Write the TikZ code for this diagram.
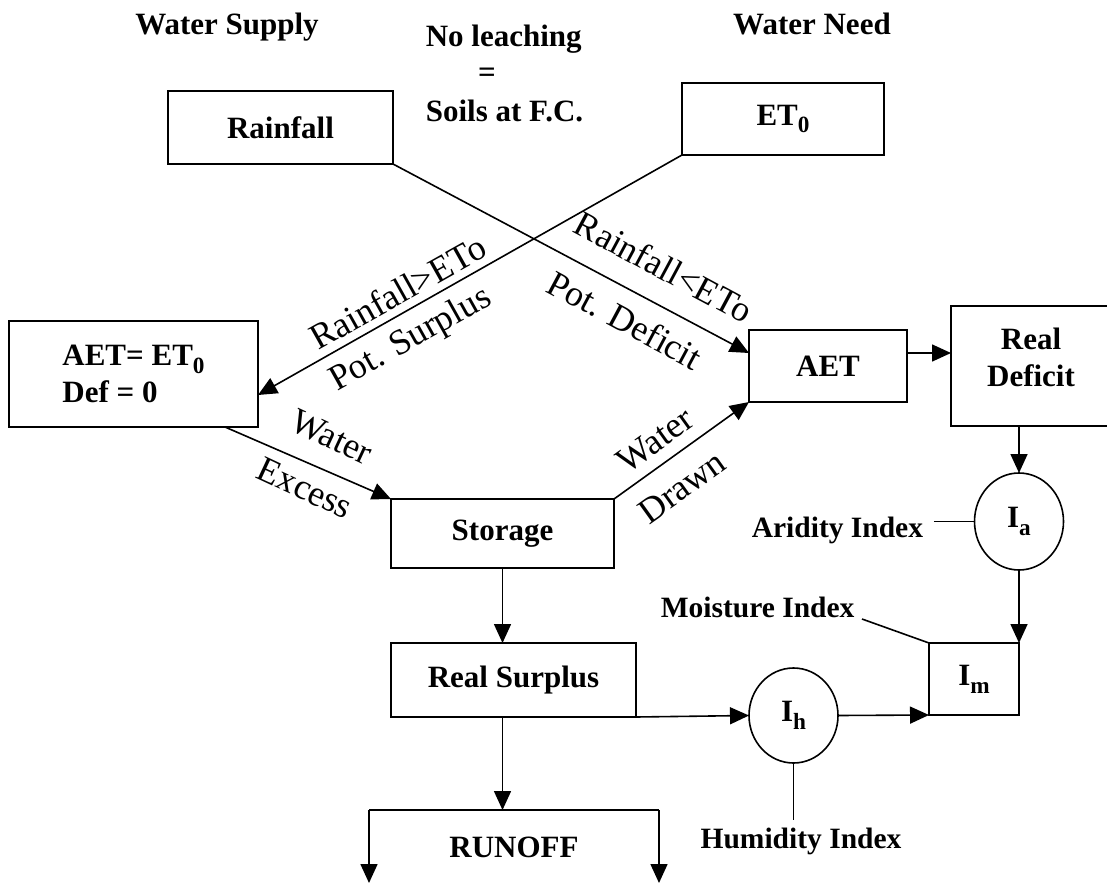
\documentclass[tikz,border=0pt]{standalone}
\usepackage{fontspec}
\setmainfont{Liberation Serif}
\usetikzlibrary{arrows.meta,shapes.geometric}
\newcommand{\sbs}[1]{\raisebox{-0.25em}{\scalebox{0.75}{#1}}}
\begin{document}
\begin{tikzpicture}[x=1pt,y=-1pt,
  line width=1.6pt,
  box/.style={draw, rectangle, inner sep=0pt, outer sep=0pt, font=\fontsize{31}{37}\selectfont\bfseries},
  circ/.style={draw, ellipse, inner sep=0pt, outer sep=0pt, minimum width=89pt, font=\fontsize{31}{37}\selectfont\bfseries},
  lbl/.style={font=\fontsize{29.5}{35}\selectfont\bfseries, inner sep=1pt},
  head/.style={font=\fontsize{31}{37}\selectfont\bfseries, inner sep=0pt},
  rot/.style={font=\fontsize{36}{40}\selectfont, inner sep=0pt},
  arr/.style={-{Triangle[length=19pt,width=17pt]}},
]
\useasboundingbox (0,0) rectangle (1107,885);

% headings
\node[head, anchor=base] (ws) at (227,35) {Water Supply};
\node[head, anchor=base west] (nl) at (425,47) {No leaching};
\node[head] (eq) at (487,75) {=};
\node[head, anchor=base west] (sfc) at (425,122) {Soils at F.C.};
\node[head, anchor=base] (wn) at (812,35) {Water Need};

% boxes
\node[box, minimum width=225pt, minimum height=73pt] (rain) at (280.5,127.5) {Rainfall};
\node[box, minimum width=202pt, minimum height=72pt] (et) at (783,119) {ET\sbs{0}};
\node[box, minimum width=249pt, minimum height=106pt, align=left] (aetz) at (133.5,374) {AET= ET\sbs{0}\\ Def = 0};
\node[box, minimum width=158pt, minimum height=72pt] (aet) at (828,366) {AET};
\node[box, minimum width=160pt, minimum height=120pt] (rdef) at (1031,366) {};
\node[head, align=center] (rdeft) at (1031,357) {Real\\Deficit};
\node[box, minimum width=223pt, minimum height=69pt] (sto) at (502.5,533.5) {Storage};
\node[box, minimum width=245pt, minimum height=74pt] (rs) at (513.5,680) {Real Surplus};
\node[box, minimum width=90pt, minimum height=72pt] (im) at (974,679) {I\sbs{m}};
\node[circ, minimum height=97pt] (ia) at (1019,521.5) {I\sbs{a}};
\node[circ, minimum height=95pt] (ih) at (793.5,715.5) {I\sbs{h}};

% side labels
\node[lbl, anchor=base west] (arid) at (750,537) {Aridity Index};
\node[lbl, anchor=base west] (moist) at (659,617) {Moisture Index};
\node[lbl, anchor=base] (hum) at (801,848) {Humidity Index};
\node[head, anchor=base] (run) at (514,857) {RUNOFF};

% rotated labels
\node[rot, rotate=29.3] (l1) at (398,292) {Rainfall>ETo};
\node[rot, rotate=29.3] (l2) at (411,340) {Pot. Surplus};
\node[rot, rotate=-28.2] (l3) at (664,267) {Rainfall<ETo};
\node[rot, rotate=-28.2] (l4) at (625,320) {Pot. Deficit};
\node[rot, rotate=-25] (l5) at (332,437) {Water};
\node[rot, rotate=-25] (l6) at (305,488) {Excess};
\node[rot, rotate=35.7] (l7) at (655,440) {Water};
\node[rot, rotate=35.7] (l8) at (682,487) {Drawn};

% coordinates
\coordinate (mstart) at (862,619);
\coordinate (bl) at (369,810);
\coordinate (br) at (659,810);
\coordinate (bld) at (369,883);
\coordinate (brd) at (659,883);

% connectors
\draw[arr] (rain.south east) -- (aet.west |- 0,353);
\draw[arr] (et.south west) -- (aetz.east |- 0,395);
\draw[arr] (aetz.south -| 225,0) -- (sto.north west);
\draw[arr] (sto.north east) -- (aet.south west);
\draw[arr] (aet.east |- 0,353) -- (rdef.west |- 0,353);
\draw[arr] (ia.north |- rdef.south) -- (ia.north);
\draw ([xshift=9pt]arid.east |- ia.west) -- (ia.west);
\draw[arr] (ia.south) -- (ia.south |- im.north);
\draw (mstart) -- (im.north west);
\draw[arr] (sto.south) -- (sto.south |- rs.north);
\draw[arr] (rs.south east) -- (ih.west);
\draw[arr] (ih.east) -- (im.south west);
\draw (ih.south) -- (ih.south |- 0,820);
\draw[arr] (rs.south -| sto.south) -- (sto.south |- bl);
\draw (bl) -- (br);
\draw[arr] (bl) -- (bld);
\draw[arr] (br) -- (brd);
\end{tikzpicture}
\end{document}
